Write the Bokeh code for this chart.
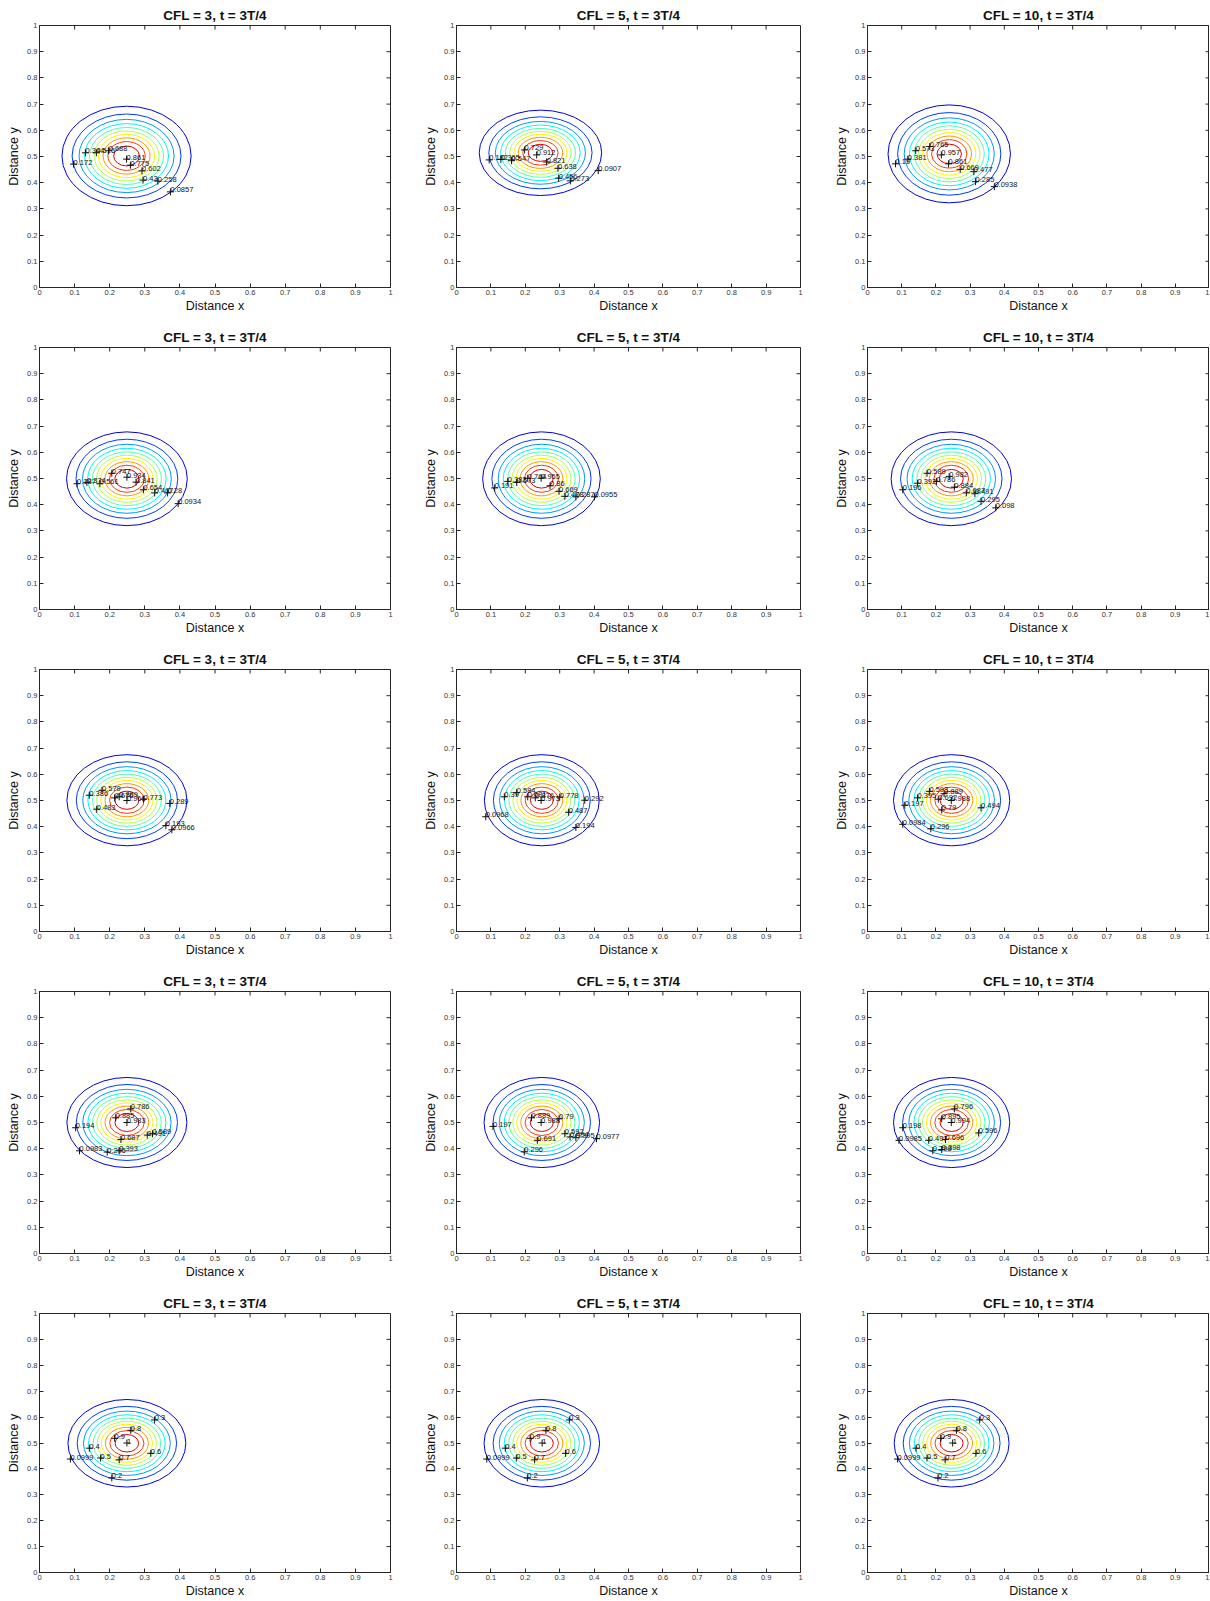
from bokeh.plotting import figure
from bokeh.models import FixedTicker, Range1d, ColumnDataSource
from bokeh.layouts import column, row
from bokeh.core.properties import value
from bokeh.embed import file_html
from bokeh.resources import INLINE

FONT = "Liberation Sans"

# ---------------- data ----------------
cfl_values = ["3", "5", "10"]
time_label = "3T/4"
tick_values = [0.0, 0.1, 0.2, 0.3, 0.4, 0.5, 0.6, 0.7, 0.8, 0.9, 1.0]
tick_labels = ["0", "0.1", "0.2", "0.3", "0.4", "0.5", "0.6", "0.7", "0.8", "0.9", "1"]

# contour levels k = 1..10 (level k of 11 divisions); ring size relative to the outermost ring
level_index = [1, 2, 3, 4, 5, 6, 7, 8, 9, 10]
ring_fraction = [1.0, 0.843, 0.736, 0.650, 0.573, 0.502, 0.434, 0.364, 0.289, 0.199]

# outermost contour: centre and semi-axes (rows x columns)
blob_cx = [[0.248, 0.244, 0.239],
           [0.249, 0.247, 0.245],
           [0.249, 0.248, 0.246],
           [0.249, 0.248, 0.246],
           [0.249, 0.248, 0.246]]
blob_cy = [[0.502, 0.514, 0.510],
           [0.499, 0.499, 0.499],
           [0.501, 0.501, 0.501],
           [0.500, 0.500, 0.500],
           [0.499, 0.499, 0.499]]
blob_rx = [[0.184, 0.178, 0.179],
           [0.172, 0.171, 0.176],
           [0.171, 0.167, 0.170],
           [0.171, 0.168, 0.170],
           [0.168, 0.168, 0.168]]
blob_ry = [[0.190, 0.163, 0.187],
           [0.179, 0.179, 0.179],
           [0.174, 0.174, 0.174],
           [0.172, 0.172, 0.172],
           [0.169, 0.169, 0.169]]

# contour labels (text, x, y of the "+" marker), one list per panel
r1c1_text = ["0.0857", "0.172", "0.258", "0.344", "0.43", "0.516", "0.602", "0.688", "0.775", "0.861"]
r1c1_x = [0.373, 0.097, 0.337, 0.131, 0.295, 0.162, 0.292, 0.197, 0.259, 0.248]
r1c1_y = [0.365, 0.471, 0.406, 0.514, 0.410, 0.514, 0.445, 0.522, 0.467, 0.490]

r1c2_text = ["0.0907", "0.182", "0.273", "0.365", "0.456", "0.547", "0.638", "0.729", "0.821", "0.912"]
r1c2_x = [0.412, 0.095, 0.331, 0.129, 0.297, 0.160, 0.295, 0.198, 0.262, 0.233]
r1c2_y = [0.446, 0.487, 0.407, 0.489, 0.417, 0.484, 0.455, 0.525, 0.479, 0.506]

r1c3_text = ["0.0938", "0.19", "0.285", "0.381", "0.477", "0.573", "0.669", "0.765", "0.861", "0.957"]
r1c3_x = [0.371, 0.082, 0.316, 0.118, 0.311, 0.141, 0.271, 0.182, 0.237, 0.216]
r1c3_y = [0.385, 0.472, 0.404, 0.490, 0.442, 0.522, 0.451, 0.538, 0.472, 0.506]

r2c1_text = ["0.0934", "0.187", "0.28", "0.374", "0.467", "0.561", "0.654", "0.747", "0.841", "0.934"]
r2c1_x = [0.395, 0.107, 0.365, 0.135, 0.328, 0.172, 0.296, 0.206, 0.275, 0.249]
r2c1_y = [0.404, 0.480, 0.445, 0.485, 0.445, 0.480, 0.457, 0.520, 0.486, 0.505]

r2c2_text = ["0.0955", "0.191", "0.287", "0.382", "0.478", "0.573", "0.669", "0.764", "0.86", "0.955"]
r2c2_x = [0.401, 0.111, 0.347, 0.149, 0.315, 0.175, 0.298, 0.207, 0.272, 0.246]
r2c2_y = [0.430, 0.464, 0.430, 0.489, 0.432, 0.485, 0.451, 0.501, 0.472, 0.501]

r2c3_text = ["0.098", "0.196", "0.295", "0.392", "0.491", "0.589", "0.687", "0.786", "0.884", "0.982"]
r2c3_x = [0.375, 0.103, 0.332, 0.146, 0.314, 0.174, 0.289, 0.202, 0.254, 0.239]
r2c3_y = [0.388, 0.457, 0.413, 0.482, 0.442, 0.520, 0.445, 0.489, 0.467, 0.508]

r3c1_text = ["0.0966", "0.193", "0.289", "0.386", "0.483", "0.579", "0.676", "0.773", "0.869", "0.966"]
r3c1_x = [0.377, 0.360, 0.371, 0.142, 0.163, 0.178, 0.214, 0.296, 0.227, 0.249]
r3c1_y = [0.388, 0.404, 0.489, 0.520, 0.467, 0.539, 0.510, 0.505, 0.514, 0.500]

r3c2_text = ["0.0968", "0.194", "0.292", "0.39", "0.487", "0.584", "0.681", "0.778", "0.876", "0.973"]
r3c2_x = [0.085, 0.347, 0.373, 0.139, 0.326, 0.175, 0.207, 0.300, 0.229, 0.246]
r3c2_y = [0.438, 0.397, 0.501, 0.514, 0.455, 0.530, 0.514, 0.513, 0.510, 0.500]

r3c3_text = ["0.0984", "0.197", "0.296", "0.395", "0.494", "0.593", "0.692", "0.79", "0.889", "0.988"]
r3c3_x = [0.103, 0.109, 0.185, 0.146, 0.332, 0.181, 0.207, 0.217, 0.224, 0.245]
r3c3_y = [0.409, 0.482, 0.392, 0.510, 0.472, 0.535, 0.505, 0.464, 0.526, 0.500]

r4c1_text = ["0.0983", "0.194", "0.295", "0.393", "0.491", "0.589", "0.687", "0.786", "0.885", "0.983"]
r4c1_x = [0.114, 0.103, 0.193, 0.227, 0.307, 0.322, 0.232, 0.260, 0.217, 0.249]
r4c1_y = [0.392, 0.480, 0.387, 0.392, 0.452, 0.457, 0.435, 0.552, 0.518, 0.500]

r4c2_text = ["0.0977", "0.197", "0.296", "0.395", "0.494", "0.592", "0.691", "0.79", "0.889", "0.988"]
r4c2_x = [0.407, 0.106, 0.197, 0.347, 0.330, 0.315, 0.235, 0.298, 0.218, 0.246]
r4c2_y = [0.438, 0.485, 0.388, 0.442, 0.445, 0.457, 0.432, 0.514, 0.518, 0.500]

r4c3_text = ["0.0985", "0.198", "0.298", "0.398", "0.497", "0.596", "0.696", "0.796", "0.895", "0.994"]
r4c3_x = [0.092, 0.103, 0.191, 0.217, 0.179, 0.325, 0.228, 0.254, 0.217, 0.245]
r4c3_y = [0.432, 0.480, 0.392, 0.397, 0.432, 0.460, 0.435, 0.552, 0.514, 0.500]

r5_text = ["0.0999", "0.2", "0.3", "0.4", "0.5", "0.6", "0.7", "0.8", "0.9", "1"]
r5_x = [0.088, 0.206, 0.328, 0.142, 0.174, 0.317, 0.227, 0.260, 0.214, 0.249]
r5_y = [0.438, 0.365, 0.589, 0.480, 0.442, 0.460, 0.435, 0.549, 0.518, 0.500]

label_text = [[r1c1_text, r1c2_text, r1c3_text],
              [r2c1_text, r2c2_text, r2c3_text],
              [r3c1_text, r3c2_text, r3c3_text],
              [r4c1_text, r4c2_text, r4c3_text],
              [r5_text, r5_text, r5_text]]
label_x = [[r1c1_x, r1c2_x, r1c3_x],
           [r2c1_x, r2c2_x, r2c3_x],
           [r3c1_x, r3c2_x, r3c3_x],
           [r4c1_x, r4c2_x, r4c3_x],
           [r5_x, r5_x, r5_x]]
label_y = [[r1c1_y, r1c2_y, r1c3_y],
           [r2c1_y, r2c2_y, r2c3_y],
           [r3c1_y, r3c2_y, r3c3_y],
           [r4c1_y, r4c2_y, r4c3_y],
           [r5_y, r5_y, r5_y]]

# ---------------- style / layout ----------------
def jet(t):
    def c(v):
        return int(round(255 * min(max(v, 0.0), 1.0)))
    return "#%02x%02x%02x" % (c(1.5 - abs(4 * t - 3)), c(1.5 - abs(4 * t - 2)), c(1.5 - abs(4 * t - 1)))

ring_colors = [jet(k / 11.0) for k in level_index]

col_border_left = [39, 29, 29]
col_frame_w = [351, 350, 348]
col_border_right = [31, 32, 0]
row_border_top = 25
frame_h = 262
row_border_bottom = [35, 35, 35, 35, 25]

AX_COLOR = "#262626"
TICK_LEN = 4


def style_axis(ax):
    ax.ticker = FixedTicker(ticks=tick_values)
    ax.major_label_overrides = {v: s for v, s in zip(tick_values, tick_labels)}
    ax.major_tick_in = TICK_LEN
    ax.major_tick_out = 0
    ax.minor_tick_line_color = None
    ax.axis_line_color = AX_COLOR
    ax.major_tick_line_color = AX_COLOR
    ax.major_label_text_font = FONT
    ax.major_label_text_color = "#333333"
    ax.major_label_text_font_size = "7.5px"
    ax.major_label_standoff = 2


def make_panel(r, c):
    fw = col_frame_w[c]
    w = col_border_left[c] + fw + col_border_right[c]
    h = row_border_top + frame_h + row_border_bottom[r]
    p = figure(width=w, height=h, x_range=Range1d(0, 1), y_range=Range1d(0, 1),
               output_backend="svg", toolbar_location=None,
               title="CFL = %s, t = %s" % (cfl_values[c], time_label),
               min_border_left=col_border_left[c], min_border_right=col_border_right[c],
               min_border_top=row_border_top, min_border_bottom=row_border_bottom[r])
    p.title.align = "center"
    p.title.text_font = FONT
    p.title.text_font_size = "13.5px"
    p.title.text_font_style = "bold"
    p.title.text_color = "#111111"
    p.title.standoff = 5
    p.background_fill_color = "white"
    p.border_fill_color = "white"
    p.outline_line_color = AX_COLOR
    p.outline_line_width = 1
    p.xgrid.visible = False
    p.ygrid.visible = False

    style_axis(p.xaxis[0])
    style_axis(p.yaxis[0])
    for ax, lab in ((p.xaxis[0], "Distance x"), (p.yaxis[0], "Distance y")):
        ax.axis_label = lab
        ax.axis_label_text_font = FONT
        ax.axis_label_text_font_size = "12.5px"
        ax.axis_label_text_font_style = "normal"
        ax.axis_label_text_color = "#111111"
    p.xaxis[0].axis_label_standoff = 1
    p.yaxis[0].axis_label_standoff = 3

    # mirrored inward ticks on the top and right edges of the box
    n = len(tick_values)
    p.segment(x0=tick_values, x1=tick_values, y0=[1.0] * n, y1=[1.0 - TICK_LEN / frame_h] * n,
              line_color=AX_COLOR, line_width=1)
    p.segment(x0=[1.0 - TICK_LEN / fw] * n, x1=[1.0] * n, y0=tick_values, y1=tick_values,
              line_color=AX_COLOR, line_width=1)

    cx, cy = blob_cx[r][c], blob_cy[r][c]
    rx, ry = blob_rx[r][c], blob_ry[r][c]
    rings = ColumnDataSource(dict(
        x=[cx] * len(ring_fraction),
        y=[cy] * len(ring_fraction),
        w=[2 * rx * f for f in ring_fraction],
        h=[2 * ry * f for f in ring_fraction],
        color=ring_colors,
    ))
    p.ellipse(x="x", y="y", width="w", height="h", source=rings,
              fill_color=None, line_color="color", line_width=1)

    labels = ColumnDataSource(dict(x=label_x[r][c], y=label_y[r][c], text=label_text[r][c]))
    p.scatter(x="x", y="y", source=labels, marker="cross", size=7,
              line_color="#111111", line_width=1)
    p.text(x="x", y="y", text="text", source=labels,
           text_font=value(FONT), text_font_size="7.5px", text_color="#111111",
           text_baseline="alphabetic", text_align="left", x_offset=0, y_offset=-2)
    return p


rows = []
for r in range(5):
    rows.append(row(*[make_panel(r, c) for c in range(3)]))
layout = column(*rows)

open("out.html", "w").write(file_html(layout, INLINE))
